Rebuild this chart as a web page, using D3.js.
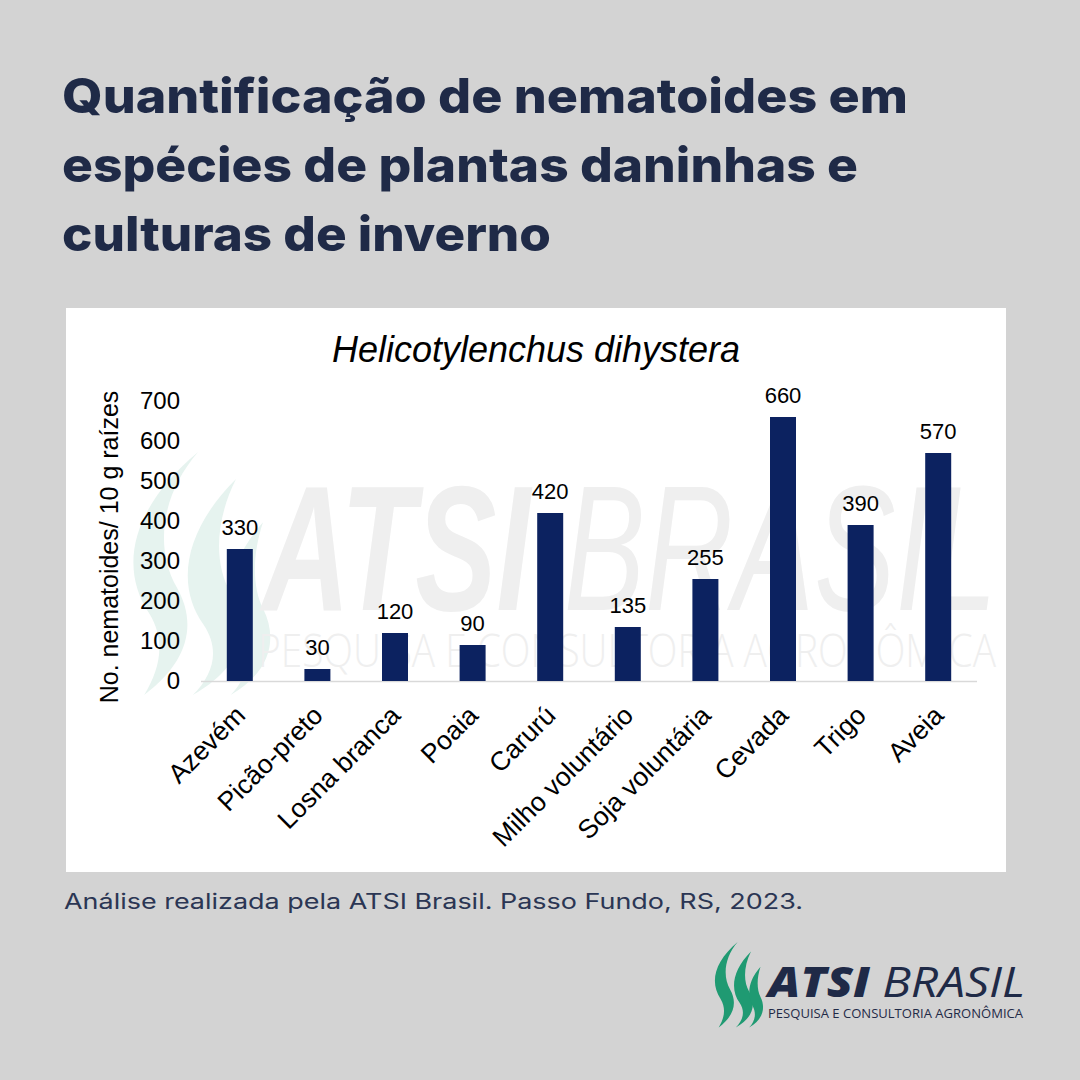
<!DOCTYPE html>
<html><head><meta charset="utf-8">
<script src="https://cdn.jsdelivr.net/npm/d3@7"></script>
<style>html,body{margin:0;padding:0;background:#d3d3d3;}svg{display:block;}</style>
</head><body>
<svg id="c" width="1080" height="1080"></svg>
<script>
const categories = ["Azevém","Picão-preto","Losna branca","Poaia","Carurú","Milho voluntário","Soja voluntária","Cevada","Trigo","Aveia"];
const values = [330,30,120,90,420,135,255,660,390,570];
const yTicks = [0,100,200,300,400,500,600,700];
const titleLines = ["Quantificação de nematoides em","espécies de plantas daninhas e","culturas de inverno"];
const chartTitle = "Helicotylenchus dihystera";
const yLabel = "No. nematoides/ 10 g raízes";
const footer = "Análise realizada pela ATSI Brasil. Passo Fundo, RS, 2023.";

const svg = d3.select("#c");
svg.append("rect").attr("width",1080).attr("height",1080).attr("fill","#d3d3d3");

// Title
const titleW = [846, 796, 489];
titleLines.forEach((t,i)=>{
  svg.append("text").attr("x",62).attr("y",113+i*69)
    .attr("font-family","Inter, 'Open Sans', sans-serif").attr("font-weight",800)
    .attr("font-size",48).attr("fill","#1f2a47")
    .attr("textLength",titleW[i]).attr("lengthAdjust","spacingAndGlyphs").text(t);
});

// Panel
svg.append("rect").attr("x",66).attr("y",308).attr("width",940).attr("height",564).attr("fill","#ffffff");

// Leaf emblem (unit box 50 x 90)
function leaf(g, dx, dy, s, fill){
  const shapes = [
    "M 26 0 C 2 20 -4 42 8 60 C 14 70 12 80 6 90 C 22 78 26 64 18 50 C 10 36 12 16 26 0 Z",
    "M 40 10 C 20 30 18 50 28 64 C 34 73 32 82 24 90 C 42 80 46 66 38 52 C 32 42 32 26 40 10 Z",
    "M 50 26 C 36 42 36 56 42 68 C 46 76 44 84 38 90 C 52 82 56 70 50 58 C 46 50 46 38 50 26 Z"
  ];
  const gg = g.append("g").attr("transform",`translate(${dx},${dy}) scale(${s})`);
  shapes.forEach(d=>gg.append("path").attr("d",d).attr("fill",fill));
}

// Watermark
const wm = svg.append("g");
leaf(wm, 128, 452, 2.7, "#e6f3ef");
wm.append("text").attr("x",262).attr("y",610)
  .attr("font-family","'Liberation Sans', Arial, sans-serif").attr("font-style","italic")
  .attr("font-size",178).attr("fill","#efefef")
  .attr("textLength",735).attr("lengthAdjust","spacingAndGlyphs")
  .html('<tspan font-weight="bold">ATSI</tspan> BRASIL');
wm.append("text").attr("x",258).attr("y",667)
  .attr("font-family","'Open Sans', sans-serif").attr("font-weight",300)
  .attr("font-size",46).attr("fill","#efefef")
  .attr("textLength",738).attr("lengthAdjust","spacingAndGlyphs")
  .text("PESQUISA E CONSULTORIA AGRONÔMICA");

// Scales
const x = d3.scaleBand().domain(categories).range([201,977]).paddingInner(0.665).paddingOuter(0.3325);
const y = d3.scaleLinear().domain([0,700]).range([681,401]);

// Chart title
svg.append("text").attr("x",536).attr("y",362).attr("text-anchor","middle")
  .attr("font-family","'Liberation Sans', Arial, sans-serif").attr("font-style","italic")
  .attr("font-size",36).attr("fill","#000").text(chartTitle);

// Axis line
svg.append("line").attr("x1",201).attr("x2",977).attr("y1",y(0)+0.5).attr("y2",y(0)+0.5)
  .attr("stroke","#d9d9d9").attr("stroke-width",1.5);

// Y axis
const yAxis = svg.append("g").attr("transform","translate(180,0)")
  .call(d3.axisLeft(y).tickValues(yTicks).tickSize(0).tickPadding(0));
yAxis.select(".domain").remove();
yAxis.selectAll("text").attr("font-family","'Liberation Sans', Arial, sans-serif")
  .attr("font-size",24).attr("fill","#000");

svg.append("text").attr("transform","translate(118,547) rotate(-90)").attr("text-anchor","middle")
  .attr("font-family","'Liberation Sans', Arial, sans-serif").attr("font-size",25)
  .attr("fill","#000").text(yLabel);

// Bars
const data = categories.map((c,i)=>({c, v: values[i]}));
svg.append("g").selectAll("rect").data(data).join("rect")
  .attr("x",d=>x(d.c)).attr("y",d=>y(d.v))
  .attr("width",x.bandwidth()).attr("height",d=>y(0)-y(d.v))
  .attr("fill","#0c2260");

svg.append("g").selectAll("text").data(data).join("text")
  .attr("x",d=>x(d.c)+x.bandwidth()/2).attr("y",d=>y(d.v)-14)
  .attr("text-anchor","middle").attr("font-family","'Liberation Sans', Arial, sans-serif")
  .attr("font-size",22).attr("fill","#000").text(d=>d.v);

// X labels
const xAxis = svg.append("g").attr("transform",`translate(0,${y(0)})`)
  .call(d3.axisBottom(x).tickSize(0).tickPadding(0));
xAxis.select(".domain").remove();
xAxis.selectAll("text")
  .attr("font-family","'Liberation Sans', Arial, sans-serif").attr("font-size",26.5).attr("fill","#000")
  .attr("text-anchor","end").attr("dy",null).attr("y",0).attr("x",0)
  .attr("transform","translate(7,36) rotate(-45)");

// Footer
svg.append("text").attr("x",64).attr("y",909)
  .attr("font-family","Inter, 'Open Sans', sans-serif").attr("font-size",21)
  .attr("fill","#2b3654").attr("textLength",739).attr("lengthAdjust","spacingAndGlyphs").text(footer);

// Logo
const lg = svg.append("g");
leaf(lg, 713, 942, 0.95, "#1f9a72");
lg.append("text").attr("x",768).attr("y",997)
  .attr("font-family","'Open Sans', sans-serif").attr("font-style","italic")
  .attr("font-size",42).attr("fill","#1f2a47")
  .attr("textLength",257).attr("lengthAdjust","spacingAndGlyphs")
  .html('<tspan font-weight="800">ATSI</tspan> BRASIL');
lg.append("text").attr("x",768).attr("y",1018)
  .attr("font-family","'Open Sans', sans-serif").attr("font-size",12.5).attr("fill","#1f2a47")
  .attr("textLength",255).attr("lengthAdjust","spacingAndGlyphs")
  .text("PESQUISA E CONSULTORIA AGRONÔMICA");
</script>
</body></html>
